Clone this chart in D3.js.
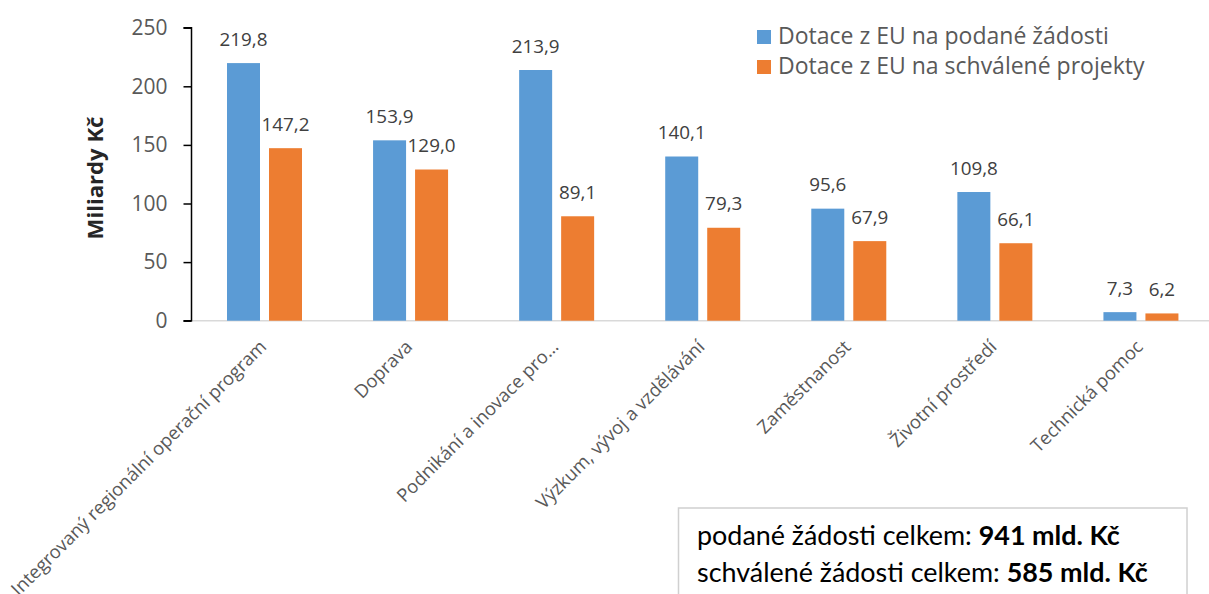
<!DOCTYPE html>
<html><head><meta charset="utf-8">
<script src="https://cdn.jsdelivr.net/npm/d3@7/dist/d3.min.js"></script>
<style>
html,body{margin:0;padding:0;background:#fff;}
svg{display:block;}
</style></head>
<body>
<svg id="chart" width="1209" height="594"></svg>
<script>
const categories = ["Integrovaný regionální operační program","Doprava","Podnikání a inovace pro…","Výzkum, vývoj a vzdělávání","Zaměstnanost","Životní prostředí","Technická pomoc"];
const seriesNames = ["Dotace z EU na podané žádosti","Dotace z EU na schválené projekty"];
const submitted = [219.8,153.9,213.9,140.1,95.6,109.8,7.3];
const approved = [147.2,129.0,89.1,79.3,67.9,66.1,6.2];
const yTicks = [0,50,100,150,200,250];
const colors = ["#5B9BD5","#ED7D31"];
const noteLines = [["podané žádosti celkem: ","941 mld. Kč"],["schválené žádosti celkem: ","585 mld. Kč"]];

const svg = d3.select("#chart");
const font = "'Open Sans', sans-serif";
const x0 = 191.5, x1 = 1214, yTop = 27.7, yBot = 320.7;

// fit font size of a selection so that its idx-th element has target width
function fit(sel, target, idx) {
  const nodes = sel.nodes();
  const n = nodes[idx || 0];
  const fs = parseFloat(n.getAttribute("font-size"));
  const w = n.getComputedTextLength();
  const nf = fs * target / w;
  sel.attr("font-size", nf);
  return nf;
}

const x = d3.scaleBand().domain(categories).range([x0, x1]);
const xs = d3.scaleBand().domain(seriesNames).range([35.5, 110.5]).paddingInner(9/42);
const y = d3.scaleLinear().domain([0,250]).range([yBot, yTop]);

// baseline
svg.append("line").attr("x1", x0).attr("x2", 1209).attr("y1", yBot).attr("y2", yBot)
  .attr("stroke", "#d9d9d9").attr("stroke-width", 1.5);

// bars
const data = categories.map((c,i)=>({c, vals:[submitted[i], approved[i]]}));
const g = svg.append("g");
const grp = g.selectAll("g.grp").data(data).join("g").attr("transform", d=>`translate(${x(d.c)},0)`);
grp.selectAll("rect").data(d=>d.vals.map((v,j)=>({v,s:seriesNames[j],j}))).join("rect")
  .attr("x", d=>xs(d.s)).attr("width", xs.bandwidth())
  .attr("y", d=>y(d.v)).attr("height", d=>yBot - y(d.v))
  .attr("fill", d=>colors[d.j]);
const dl = grp.selectAll("text").data(d=>d.vals.map((v,j)=>({v,s:seriesNames[j],j}))).join("text")
  .attr("x", d=>xs(d.s)+xs.bandwidth()/2).attr("y", d=>y(d.v)-17.5)
  .attr("text-anchor","middle").attr("font-family", font).attr("font-size", 17.5)
  .attr("fill","#404040").text(d=>d.v.toFixed(1).replace(".", ","));
fit(svg.selectAll("g g text"), 48, 0);

// y axis
const yAxis = d3.axisLeft(y).tickValues(yTicks).tickSize(8).tickPadding(16).tickFormat(d=>d);
const ya = svg.append("g").attr("transform", `translate(${x0},0)`).call(yAxis);
ya.select(".domain").attr("stroke","#000").attr("stroke-width",1.5).attr("d", `M-8,${yTop}H0V${yBot}H-8`);
ya.selectAll(".tick line").attr("stroke","#000").attr("stroke-width",1.5);
const yt = ya.selectAll(".tick text").attr("font-family", font).attr("font-size", 19.5).attr("fill","#595959");
fit(yt, 36, 5);

// y title
const ytl = svg.append("text").attr("transform", "translate(103,178) rotate(-90)")
  .attr("text-anchor","middle").attr("font-family", font).attr("font-weight","bold")
  .attr("font-size", 20).attr("fill","#262626").text("Miliardy Kč");
fit(ytl, 123, 0);

// category labels
const cl = svg.append("g").selectAll("text").data(categories).join("text")
  .attr("transform", d=>`translate(${x(d)+x.bandwidth()/2+3},348) rotate(-45)`)
  .attr("text-anchor","end").attr("font-family", font).attr("font-size", 17)
  .attr("fill","#595959").text(d=>d);
fit(cl, 352, 0);

// legend
const lg = svg.append("g").selectAll("g").data(seriesNames).join("g")
  .attr("transform", (d,i)=>`translate(757,${30+i*30})`);
lg.append("rect").attr("width",14).attr("height",14).attr("fill",(d,i)=>colors[i]);
const lt = lg.append("text").attr("x",21).attr("y",14).attr("font-family", font).attr("font-size", 20.5)
  .attr("fill","#595959").text(d=>d);
fit(lt, 331, 0);

// note box
svg.append("rect").attr("x",678.5).attr("y",508).attr("width",508.5).attr("height",100)
  .attr("fill","#fff").attr("stroke","#d0d0d0").attr("stroke-width",1.5);
const nt = svg.append("g").selectAll("text").data(noteLines).join("text")
  .attr("x",697).attr("y",(d,i)=>545+i*37).attr("font-family","Lato, Carlito, sans-serif")
  .attr("font-size",26).attr("fill","#000");
nt.append("tspan").text(d=>d[0]);
nt.append("tspan").attr("font-weight","bold").text(d=>d[1]);
fit(nt, 423, 0);
</script>
</body></html>
